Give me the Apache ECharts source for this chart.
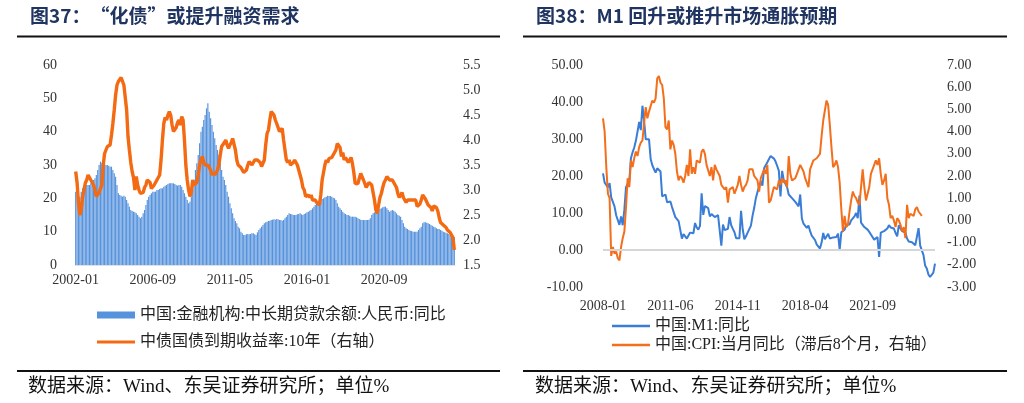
<!DOCTYPE html>
<html><head><meta charset="utf-8">
<script src="https://cdn.jsdelivr.net/npm/echarts@6/dist/echarts.min.js"></script>
<style>html,body{margin:0;padding:0;background:#fff}#c{width:1024px;height:403px}</style>
</head><body><div id="c"></div>
<script>
function monthRange(y0, m0, y1, m1) {
  const a = []; let y = y0, m = m0;
  while (y < y1 || (y === y1 && m <= m1)) { a.push(y + '-' + String(m).padStart(2, '0')); m++; if (m > 12) { m = 1; y++; } }
  return a;
}
// ---- Figure 37 data (monthly 2002-01 .. 2024-12) ----
const loanMonths = monthRange(2002, 1, 2024, 12);
const loanGrowth = [
  22, 21, 19.5, 20.5, 22, 23, 23.5, 24, 24, 24, 24, 24.5,
  25, 25.5, 26, 27, 28.5, 30, 31, 30.5, 30.5, 30.5, 30, 30,
  29.8, 29.5, 29.5, 28.5, 27.5, 26.5, 24, 21.5, 21, 20.8, 20.5, 20.8,
  20.5, 19.5, 18.5, 17.5, 16.5, 16.2, 16, 15.8, 15.5, 15, 14.5, 14,
  14.5, 15.5, 16.5, 18, 19.5, 20.5, 21, 21.5, 22, 22, 22, 22.5,
  22.5, 22.8, 23, 23, 23.5, 23.8, 24, 24.3, 24.5, 24.5, 24.5, 24.5,
  24.3, 24, 23.8, 24, 24, 23.5, 22.5, 21.5, 20.5, 19.5, 18.5, 19,
  20.5, 22.5, 25.5, 28.5, 30.5, 33, 36.5, 40, 41.5, 43.5, 45, 47,
  48.5, 46, 44, 42, 40, 38, 36, 34.5, 33, 30.5, 28.5, 26.5,
  25.5, 24, 22, 20.5, 18.5, 17, 15.5, 14, 13.2, 12.5, 11.5, 11,
  10, 9.5, 9, 9, 9.2, 9.3, 9.2, 9.3, 9.5, 9.5, 9.2, 9,
  9.8, 10.5, 11, 11.5, 12, 12.5, 12.8, 13, 13.2, 13.3, 13.5, 13.6,
  13.7, 13.6, 13.8, 13.7, 13.5, 13.5, 13.3, 13.5, 14, 14.5, 15, 15.5,
  15.3, 15.2, 15, 15, 15, 15.2, 15.3, 15.5, 15.2, 15, 15.3, 15.5,
  15.8, 16, 16.3, 16.5, 17, 17.5, 18, 18.5, 19, 19.2, 19.5, 19.8,
  20, 20.3, 20.5, 20.8, 20.7, 20.7, 20.5, 20.2, 20, 19.5, 18.5, 17.5,
  17, 16.5, 16, 15.5, 15.3, 15, 15, 14.8, 14.5, 14.5, 14.5, 14.5,
  14.3, 14, 13.8, 13.6, 13.5, 13.5, 13.5, 13.5, 13.5, 13.6, 14, 15,
  15.5, 15.8, 16, 16.3, 16.5, 16.8, 17, 17.3, 17.5, 17.5, 17, 16.5,
  16, 16.3, 16.5, 16.3, 16, 15.5, 15, 14.8, 14.5, 13.5, 12.5, 11.5,
  11, 10.8, 10.5, 10.3, 10.2, 10, 10, 10, 10, 10.5, 11, 11.5,
  12.5, 12.8, 12.8, 12.7, 12.5, 12.3, 12, 11.8, 11.5, 11.3, 11, 10.8,
  10.8, 10.5, 10.3, 10, 9.8, 9.7, 9.5, 9.3, 9, 8.8, 8.5, 8.3
];
const bondYield10y = [
  3.37, 3.15, 2.75, 2.5, 2.6, 2.85, 3.0, 3.14, 3.2, 3.3, 3.25, 3.2,
  3.2, 3.1, 3.0, 2.87, 2.9, 2.95, 2.93, 3.1, 3.5, 3.73, 3.8, 3.87,
  3.87, 3.9, 4.1, 4.33, 4.6, 4.9, 5.1, 5.17, 5.15, 5.25, 5.27, 5.1,
  5.07, 4.6, 4.07, 3.8, 3.55, 3.37, 3.25, 3.0, 3.27, 3.1, 3.0, 2.93,
  2.93, 2.95, 3.05, 3.1, 3.2, 3.23, 3.15, 3.03, 3.05, 3.1, 3.15, 3.2,
  3.2, 3.3, 3.6, 4.0, 4.33, 4.45, 4.4, 4.5, 4.57, 4.5, 4.3, 4.17,
  4.17, 4.25, 4.35, 4.4, 4.3, 4.47, 4.4, 4.0, 3.5, 3.2, 3.0, 2.87,
  2.95, 3.2, 3.1, 3.1, 3.15, 3.3, 3.5, 3.6, 3.67, 3.55, 3.5, 3.47,
  3.5, 3.47, 3.4, 3.3, 3.35, 3.3, 3.3, 3.4, 3.5, 3.7, 3.87, 3.9,
  3.95, 4.0, 3.9, 3.83, 3.9, 3.95, 4.03, 4.0, 3.8, 3.6, 3.5, 3.47,
  3.45, 3.4, 3.35, 3.33, 3.4, 3.5, 3.57, 3.55, 3.5, 3.55, 3.6, 3.6,
  3.6, 3.6, 3.55, 3.47, 3.5, 3.6, 3.9, 4.13, 4.2, 4.4, 4.57, 4.55,
  4.5, 4.4, 4.33, 4.25, 4.17, 4.2, 4.23, 4.0, 3.8, 3.6, 3.55, 3.6,
  3.5, 3.47, 3.55, 3.6, 3.55, 3.5, 3.4, 3.3, 3.2, 3.05, 3.0, 2.87,
  2.85, 2.9, 2.85, 2.9, 2.8, 2.77, 2.8, 2.75, 2.73, 2.7, 2.9, 3.2,
  3.35, 3.5, 3.6, 3.55, 3.63, 3.6, 3.65, 3.7, 3.7, 3.8, 3.93, 3.9,
  3.85, 3.67, 3.75, 3.6, 3.65, 3.6, 3.55, 3.6, 3.65, 3.53, 3.35, 3.13,
  3.15, 3.13, 3.1, 3.33, 3.3, 3.2, 3.13, 3.05, 3.1, 3.15, 3.15, 3.1,
  2.95, 2.8, 2.6, 2.53, 2.7, 2.85, 2.93, 3.05, 3.15, 3.2, 3.27, 3.25,
  3.2, 3.23, 3.2, 3.15, 3.1, 3.05, 2.93, 2.85, 2.85, 2.95, 2.85, 2.8,
  2.75, 2.8, 2.78, 2.8, 2.8, 2.8, 2.82, 2.8, 2.67, 2.7, 2.72, 2.8,
  2.9, 2.87, 2.82, 2.78, 2.7, 2.68, 2.65, 2.58, 2.68, 2.67, 2.65, 2.58,
  2.45, 2.35, 2.33, 2.3, 2.3, 2.25, 2.2, 2.18, 2.15, 2.12, 2.05, 1.8
];
// ---- Figure 38 data (monthly 2008-01 .. 2024-11) ----
const m1Months = monthRange(2008, 1, 2024, 11);
const m1Growth = [
  20.7, 18.2, 18.3, 16.9, 18.1, 14.2, 14.0, 11.8, 9.4, 8.9, 6.8, 9.1,
  6.7, 10.9, 17.0, 17.5, 18.7, 24.8, 26.4, 27.7, 29.5, 32.0, 34.6, 32.4,
  39.0, 34.9, 29.9, 30.3, 29.9, 24.6, 22.9, 21.9, 20.9, 22.1, 22.1, 21.2,
  14.5, 14.7, 15.0, 12.9, 12.7, 13.1, 11.6, 11.2, 8.9, 8.4, 7.8, 7.9,
  3.1, 4.3, 4.4, 3.1, 3.5, 4.7, 4.6, 4.5, 7.3, 6.1, 5.5, 6.5,
  15.3, 9.5, 11.9, 11.9, 11.3, 9.1, 9.7, 9.9, 8.9, 8.9, 9.4, 9.3,
  1.2, 6.9, 5.4, 5.5, 5.7, 8.9, 6.7, 5.7, 4.8, 3.2, 3.2, 3.2,
  10.6, 5.6, 2.9, 3.7, 4.7, 4.3, 6.6, 9.3, 11.4, 14.0, 15.7, 15.2,
  18.6, 17.4, 22.1, 22.9, 23.7, 24.6, 25.4, 25.3, 24.7, 23.9, 22.7, 21.4,
  14.5, 21.4, 18.8, 18.5, 17.0, 15.0, 15.3, 14.0, 14.0, 13.0, 12.7, 11.8,
  15.0, 8.5, 7.1, 7.2, 6.0, 6.6, 5.1, 3.9, 4.0, 2.7, 1.5, 1.5,
  0.4, 2.0, 4.6, 2.9, 3.4, 4.4, 3.1, 3.4, 3.4, 3.3, 3.5, 4.4,
  0.0, 4.8, 5.0, 5.5, 6.8, 6.5, 6.9, 8.0, 8.1, 9.1, 10.0, 8.6,
  14.7, 7.4, 7.1, 6.2, 6.1, 5.5, 4.9, 4.2, 3.7, 2.8, 3.0, 3.5,
  -1.9, 4.7, 4.7, 5.1, 4.6, 5.8, 6.7, 6.1, 6.4, 5.8, 4.6, 3.7,
  6.7, 5.8, 5.1, 5.3, 4.7, 3.1, 2.3, 2.2, 2.1, 1.9, 1.3, 1.3,
  5.9, 1.2, 1.1, -1.4, -4.2, -5.0, -6.6, -7.3, -7.4, -6.1, -3.7
];
const cpiLag8 = [
  4.6, 4.0, 2.4, 1.2,
  1.0, -1.6, -1.2, -1.5, -1.4, -1.7, -1.8, -1.2, -0.8, -0.5, 0.6, 1.9,
  1.5, 2.7, 2.4, 2.8, 3.1, 2.9, 3.3, 3.5, 3.6, 4.4, 5.1, 4.6,
  4.9, 4.9, 5.4, 5.3, 5.5, 6.4, 6.5, 6.2, 6.1, 5.5, 4.2, 4.1,
  4.5, 3.2, 3.6, 3.4, 3.0, 2.2, 1.8, 2.0, 1.9, 1.7, 2.0, 2.5,
  2.0, 3.2, 2.1, 2.4, 2.1, 2.7, 2.7, 2.6, 3.1, 3.2, 3.0, 2.5,
  2.5, 2.0, 2.4, 1.8, 2.5, 2.3, 2.3, 2.0, 1.6, 1.6, 1.4, 1.5,
  0.8, 1.4, 1.4, 1.5, 1.2, 1.4, 1.6, 2.0, 1.6, 1.3, 1.5, 1.6,
  1.8, 2.3, 2.3, 2.3, 2.0, 1.9, 1.8, 1.3, 1.9, 2.1, 2.3, 2.1,
  2.5, 0.8, 0.9, 1.2, 1.5, 1.5, 1.4, 1.8, 1.6, 1.9, 1.7, 1.8,
  1.5, 2.9, 2.1, 1.8, 1.8, 1.9, 2.1, 2.3, 2.5, 2.5, 2.2, 1.9,
  1.7, 1.5, 2.3, 2.5, 2.7, 2.7, 2.8, 2.8, 3.0, 3.8, 4.5, 4.5,
  5.4, 5.2, 4.3, 3.3, 2.4, 2.5, 2.7, 2.4, 1.7, 0.5, -0.5, 0.2,
  -0.3, -0.2, 0.4, 0.9, 1.3, 1.1, 1.0, 0.8, 0.7, 1.5, 2.3, 1.5,
  0.9, 0.9, 1.5, 2.1, 2.1, 2.5, 2.7, 2.5, 2.8, 2.1, 1.6, 1.8,
  2.1, 1.0, 0.7, 0.1, 0.2, 0.0, -0.3, 0.1, 0.0, -0.2, -0.5, -0.3,
  -0.8, 0.7, 0.1, 0.3, 0.3, 0.2, 0.5, 0.6, 0.4, 0.3, 0.2
];
const titleLeft = '图37：“化债”或提升融资需求';
const titleRight = '图38：M1 回升或推升市场通胀预期';
const seriesNames = ['中国:金融机构:中长期贷款余额:人民币:同比', '中债国债到期收益率:10年（右轴）', '中国:M1:同比', '中国:CPI:当月同比（滞后8个月，右轴）'];
const sourceText = '数据来源：Wind、东吴证券研究所；单位%';

const NUM_FONT = '"Liberation Serif", "Noto Sans CJK SC", serif';
const CJK_FONT = '"Liberation Serif", "Noto Sans CJK SC", sans-serif';
const axisLbl = { fontFamily: NUM_FONT, fontSize: 14, color: '#333' };
const legendText = { fontFamily: CJK_FONT, fontSize: 16, color: '#222' };

function legendOne(name, left, top, h) {
  return { data: [{ name: name, icon: 'rect' }], orient: 'horizontal', left: left, top: top, padding: 0,
    itemWidth: 38, itemHeight: h, textStyle: legendText, selectedMode: false };
}

const chart = echarts.init(document.getElementById('c'), null, { renderer: 'canvas' });
chart.setOption({
  animation: false,
  backgroundColor: '#fff',
  grid: [
    { left: 75, top: 65, width: 380, height: 200 },
    { left: 603, top: 65, width: 332, height: 222 }
  ],
  xAxis: [
    { type: 'category', gridIndex: 0, data: loanMonths, boundaryGap: true,
      axisLine: { show: true, lineStyle: { color: '#e0e0e0' } }, axisTick: { show: false },
      axisLabel: Object.assign({ interval: 55, margin: 8 }, axisLbl) },
    { type: 'category', gridIndex: 1, data: m1Months, boundaryGap: false,
      axisLine: { show: false }, axisTick: { show: false },
      axisLabel: Object.assign({ interval: 40, margin: 12 }, axisLbl) }
  ],
  yAxis: [
    { type: 'value', gridIndex: 0, min: 0, max: 60, interval: 10, splitLine: { show: false },
      axisLine: { show: false }, axisTick: { show: false }, axisLabel: Object.assign({ margin: 18 }, axisLbl) },
    { type: 'value', gridIndex: 0, position: 'right', min: 1.5, max: 5.5, interval: 0.5, splitLine: { show: false },
      axisLine: { show: false }, axisTick: { show: false },
      axisLabel: Object.assign({ margin: 8, formatter: v => v.toFixed(1) }, axisLbl) },
    { type: 'value', gridIndex: 1, min: -10, max: 50, interval: 10, splitLine: { show: false },
      axisLine: { show: false }, axisTick: { show: false },
      axisLabel: Object.assign({ margin: 20, formatter: v => v.toFixed(2) }, axisLbl) },
    { type: 'value', gridIndex: 1, position: 'right', min: -3, max: 7, interval: 1, splitLine: { show: false },
      axisLine: { show: false }, axisTick: { show: false },
      axisLabel: Object.assign({ margin: 12, formatter: v => v.toFixed(2) }, axisLbl) }
  ],
  legend: [
    legendOne(seriesNames[0], 97, 307, 7),
    legendOne(seriesNames[1], 97, 334, 3),
    legendOne(seriesNames[2], 612, 318, 2.5),
    legendOne(seriesNames[3], 612, 337, 2.5)
  ],
  series: [
    { name: seriesNames[0], type: 'bar', xAxisIndex: 0, yAxisIndex: 0, data: loanGrowth,
      barCategoryGap: '15%', itemStyle: { color: '#5793DD' } },
    { name: seriesNames[1], type: 'line', xAxisIndex: 0, yAxisIndex: 1, data: bondYield10y,
      symbol: 'none', lineStyle: { width: 3.4, color: '#F36A12' }, itemStyle: { color: '#F36A12' } },
    { name: seriesNames[2], type: 'line', xAxisIndex: 1, yAxisIndex: 2, data: m1Growth,
      symbol: 'none', lineStyle: { width: 2, color: '#3A7DD6' }, itemStyle: { color: '#3A7DD6' },
      markLine: { silent: true, symbol: 'none', label: { show: false },
        lineStyle: { color: '#d6d6d6', width: 2, type: 'solid' }, data: [{ yAxis: 0 }] } },
    { name: seriesNames[3], type: 'line', xAxisIndex: 1, yAxisIndex: 3, data: cpiLag8,
      symbol: 'none', lineStyle: { width: 2, color: '#F36F1C' }, itemStyle: { color: '#F36F1C' } }
  ],
  graphic: [
    { type: 'text', left: 30, top: 6, style: { text: titleLeft, font: 'bold 19px "Noto Sans CJK SC"', fill: '#1F3461' } },
    { type: 'text', left: 536, top: 6, style: { text: titleRight, font: 'bold 19px "Noto Sans CJK SC"', fill: '#1F3461' } },
    { type: 'line', shape: { x1: 17, y1: 36.5, x2: 500, y2: 36.5 }, style: { stroke: '#111', lineWidth: 2 } },
    { type: 'line', shape: { x1: 523, y1: 36.5, x2: 1007, y2: 36.5 }, style: { stroke: '#111', lineWidth: 2 } },
    { type: 'line', shape: { x1: 17, y1: 371, x2: 500, y2: 371 }, style: { stroke: '#111', lineWidth: 2 } },
    { type: 'line', shape: { x1: 523, y1: 371, x2: 1007, y2: 371 }, style: { stroke: '#111', lineWidth: 2 } },
    { type: 'text', left: 28, top: 378, style: { text: sourceText, font: '19px "Liberation Serif", "Noto Sans CJK SC"', fill: '#111' } },
    { type: 'text', left: 535, top: 378, style: { text: sourceText, font: '19px "Liberation Serif", "Noto Sans CJK SC"', fill: '#111' } }
  ]
});
</script></body></html>
